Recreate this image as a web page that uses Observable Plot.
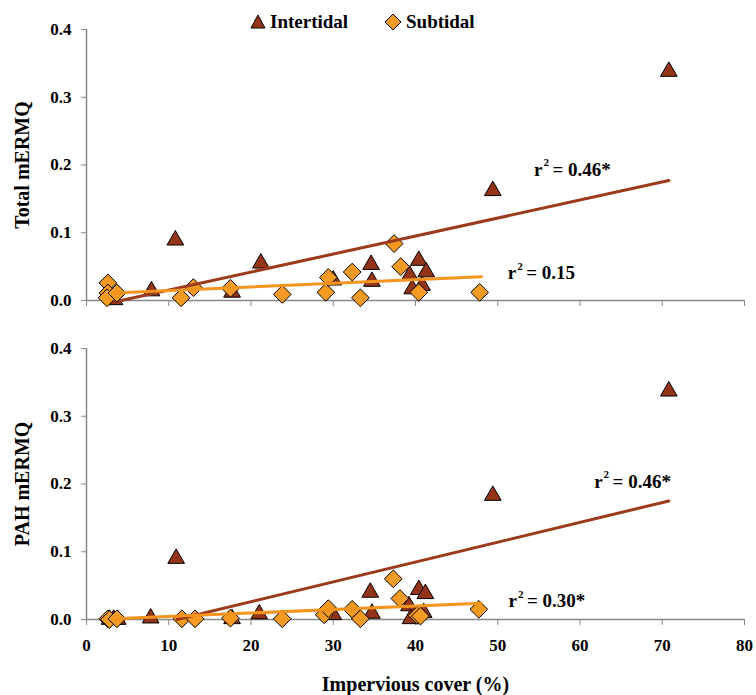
<!DOCTYPE html>
<html><head><meta charset="utf-8">
<script src="https://cdn.jsdelivr.net/npm/d3@7"></script>
<script src="https://cdn.jsdelivr.net/npm/@observablehq/plot@0.6"></script>
<style>
body{margin:0;background:#fff;}
#wrap{position:relative;width:756px;height:695px;font-family:"Liberation Serif","Times New Roman",serif;}
#legend{position:absolute;left:0;top:0;width:756px;height:40px;font-weight:bold;font-size:19px;color:#000;}
#legend .item{position:absolute;top:11px;display:flex;align-items:center;}
#legend svg{margin-right:4px;}
#top svg,#bottom svg{display:block;}
</style>
</head><body>
<div id="wrap">
  <div id="top"></div>
  <div id="bottom"></div>
  <div id="legend"></div>
</div>
<script>
// ---- data ----
const xTicks = [0, 10, 20, 30, 40, 50, 60, 70, 80];
const yTicks = [0, 0.1, 0.2, 0.3, 0.4];
const seriesNames = ["Intertidal", "Subtidal"];
const panelLabels = ["Total mERMQ", "PAH mERMQ"];
const xLabel = "Impervious cover (%)";

// Top panel (Total mERMQ)
const totalInterX = [3.0, 3.4, 7.9, 10.8, 17.7, 21.2, 30.0, 34.6, 34.7, 39.3, 39.6, 40.4, 40.8, 41.3, 49.4, 70.8];
const totalInterY = [0.004, 0.001, 0.014, 0.089, 0.012, 0.055, 0.030, 0.053, 0.028, 0.037, 0.017, 0.059, 0.022, 0.042, 0.162, 0.338];
const totalSubX = [2.6, 2.6, 2.5, 3.7, 11.5, 13.0, 17.5, 23.8, 29.1, 29.4, 32.3, 33.3, 37.4, 38.2, 40.4, 47.8];
const totalSubY = [0.026, 0.011, 0.004, 0.011, 0.004, 0.019, 0.018, 0.009, 0.012, 0.034, 0.042, 0.004, 0.084, 0.050, 0.012, 0.012];
const totalInterFitX = [4.2, 70.8];
const totalInterFitY = [0.0, 0.177];
const totalSubFitX = [3.3, 48.0];
const totalSubFitY = [0.011, 0.035];
const totalR2 = ["0.46*", "0.15"];
const totalR2X = [59.7, 56.5];
const totalR2Y = [0.193, 0.040];

// Bottom panel (PAH mERMQ)
const pahInterX = [2.8, 3.3, 3.8, 7.8, 10.9, 17.7, 21.0, 30.0, 34.5, 34.7, 39.2, 39.4, 40.4, 41.0, 41.2, 49.4, 70.8];
const pahInterY = [0.0, 0.0, 0.0, 0.002, 0.090, 0.001, 0.008, 0.007, 0.040, 0.009, 0.020, 0.001, 0.044, 0.010, 0.038, 0.183, 0.337];
const pahSubX = [2.6, 2.8, 3.7, 11.6, 13.2, 17.5, 23.8, 28.9, 29.4, 32.3, 33.3, 37.3, 38.1, 40.2, 40.6, 47.7];
const pahSubY = [0.001, 0.0, 0.001, 0.001, 0.001, 0.002, 0.001, 0.007, 0.016, 0.015, 0.001, 0.060, 0.031, 0.006, 0.005, 0.015];
const pahInterFitX = [11.0, 70.8];
const pahInterFitY = [0.0, 0.175];
const pahSubFitX = [3.3, 48.0];
const pahSubFitY = [0.001, 0.024];
const pahR2 = ["0.46*", "0.30*"];
const pahR2X = [67.0, 56.6];
const pahR2Y = [0.203, 0.027];

// ---- styles ----
const BROWN = "#933418";
const ORANGE = "#f59a22";
const LINE_BROWN = "#9c3a1c";
const LINE_ORANGE = "#f7941d";
const FONT = "Liberation Serif, Times New Roman, serif";

const zip = (xs, ys) => xs.map((x, i) => ({x, y: ys[i]}));

function panel(o) {
  const inter = zip(o.ix, o.iy), sub = zip(o.sx, o.sy);
  const ifit = zip(o.ifx, o.ify), sfit = zip(o.sfx, o.sfy);
  const lab = o.r2.map((t, i) => ({t, x: o.r2x[i], y: o.r2y[i]}));
  const marks = [
    Plot.axisY({ticks: yTicks, tickFormat: d3.format(".1f"), tickSize: 5, tickPadding: 10, label: null, fontSize: 17, fontWeight: "bold", stroke: "#888"}),
    Plot.axisX({ticks: xTicks, tickSize: 6, tickPadding: 13, label: null, fontSize: 17, fontWeight: "bold", stroke: "#888",
      tickFormat: o.showX ? (d => String(d)) : (() => "")}),
    Plot.ruleX([0], {stroke: "#888", strokeWidth: 1.5}),
    Plot.ruleY([0], {stroke: "#888", strokeWidth: 1.5}),
    Plot.dot(inter, {x: "x", y: "y", symbol: "triangle", r: 6.2, fill: BROWN, stroke: "#000", strokeWidth: 1}),
    Plot.dot(sub, {x: "x", y: "y", symbol: "diamond2", r: 8, fill: ORANGE, stroke: "#000", strokeWidth: 1}),
    Plot.line(ifit, {x: "x", y: "y", stroke: LINE_BROWN, strokeWidth: 3}),
    Plot.line(sfit, {x: "x", y: "y", stroke: LINE_ORANGE, strokeWidth: 3}),
    // r² labels: "r" + raised "2" + " = value"
    Plot.text(lab, {x: "x", y: "y", text: () => "r", dx: -35, textAnchor: "end", fontSize: 19, fontWeight: "bold", fill: "#000"}),
    Plot.text(lab, {x: "x", y: "y", text: () => "2", dx: -34, dy: -7, textAnchor: "start", fontSize: 11, fontWeight: "bold", fill: "#000"}),
    Plot.text(lab, {x: "x", y: "y", text: d => "= " + d.t, dx: -25, textAnchor: "start", fontSize: 19, fontWeight: "bold", fill: "#000"}),
    Plot.text([o.ylabel], {frameAnchor: "left", textAnchor: "middle", rotate: -90, dx: -64, fontSize: 20, fontWeight: "bold", fill: "#000"})
  ];
  if (o.showX) marks.push(Plot.text([xLabel], {frameAnchor: "bottom", dy: 71, fontSize: 20, fontWeight: "bold", fill: "#000"}));
  return Plot.plot({
    width: 756, height: o.height,
    marginLeft: 86, marginRight: 12, marginTop: o.marginTop, marginBottom: o.marginBottom,
    x: {domain: [0, 80]},
    y: {domain: [0, 0.4]},
    style: {fontFamily: FONT, color: "#000", background: "#fff", overflow: "visible"},
    marks
  });
}

document.getElementById("top").append(panel({
  height: 320, marginTop: 29, marginBottom: 20, showX: false, ylabel: panelLabels[0],
  ix: totalInterX, iy: totalInterY, sx: totalSubX, sy: totalSubY,
  ifx: totalInterFitX, ify: totalInterFitY, sfx: totalSubFitX, sfy: totalSubFitY,
  r2: totalR2, r2x: totalR2X, r2y: totalR2Y
}));
document.getElementById("bottom").append(panel({
  height: 375, marginTop: 28, marginBottom: 76, showX: true, ylabel: panelLabels[1],
  ix: pahInterX, iy: pahInterY, sx: pahSubX, sy: pahSubY,
  ifx: pahInterFitX, ify: pahInterFitY, sfx: pahSubFitX, sfy: pahSubFitY,
  r2: pahR2, r2x: pahR2X, r2y: pahR2Y
}));

// legend
const leg = document.getElementById("legend");
const sym = [
  `<svg width="16" height="16" viewBox="-8 -8 16 16"><path d="M0,-7L7,6L-7,6Z" fill="${BROWN}" stroke="#000" stroke-width="1"/></svg>`,
  `<svg width="18" height="18" viewBox="-9 -9 18 18"><path d="M0,-8L8,0L0,8L-8,0Z" fill="${ORANGE}" stroke="#000" stroke-width="1"/></svg>`
];
const legLeft = [250, 384];
seriesNames.forEach((n, i) => {
  const d = document.createElement("div");
  d.className = "item";
  d.style.left = legLeft[i] + "px";
  d.innerHTML = sym[i] + `<span>${n}</span>`;
  leg.append(d);
});
</script>
</body></html>
